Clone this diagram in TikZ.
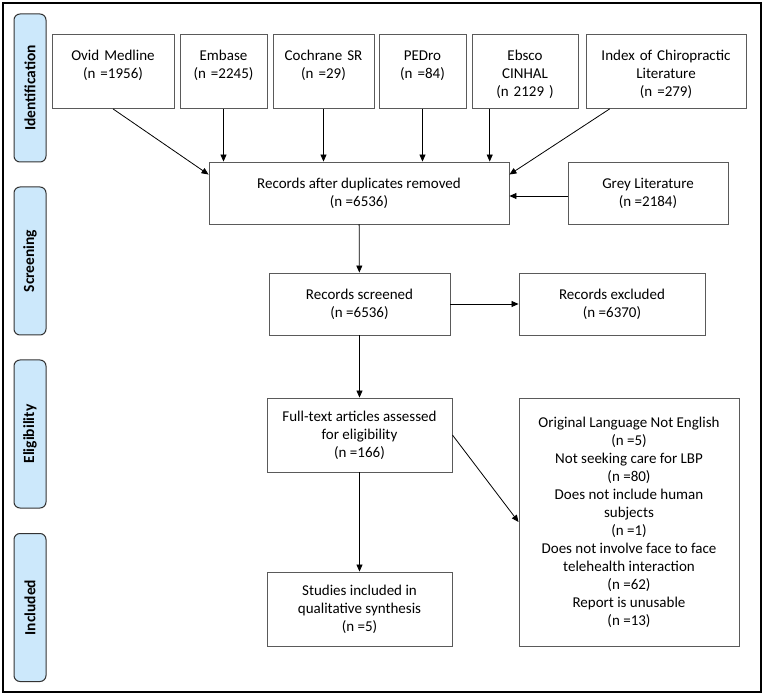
\documentclass[tikz,border=0pt]{standalone}
\usepackage{fontspec}
\setmainfont{Carlito}
\usepackage{tikz}
\usetikzlibrary{calc}
\usetikzlibrary{arrows.meta}
\definecolor{phasefill}{HTML}{CCE8FB}
\definecolor{boxline}{HTML}{5A5A5A}
\tikzset{
  box/.style={draw=boxline, line width=0.9pt, align=center, inner sep=2pt,
    font=\fontsize{15}{18}\selectfont},
  topbox/.style={box, anchor=north, inner xsep=0pt, inner ysep=4pt,
    text width=#1, text height=22pt, text depth=44pt},
  phase/.style={draw=black!80, fill=phasefill, rounded corners=6pt, line width=1pt,
    minimum width=148pt, minimum height=32pt, rotate=90,
    font=\fontsize{15.5}{18}\selectfont\bfseries},
  link/.style={->, line width=0.8pt}
}

\begin{document}
\begin{tikzpicture}[x=1pt, y=-1pt, >={Triangle[length=7pt,width=6pt]}]
\useasboundingbox (0,0) rectangle (764,695);
\draw[line width=2.5pt] (3,3) rectangle (761,692);

% phases
\node[phase] (ident) at (30,88) {Identification};
\node[phase] (screen) at (30,261) {Screening};
\node[phase] (elig) at (30,434) {Eligibility};
\node[phase] (incl) at (30,607.5) {Included};

% sources
\node[topbox=122pt] (ovid) at (113,34) {Ovid Medline\\(n =1956)};
\node[topbox=87pt] (embase) at (223.5,34) {Embase\\(n =2245)};
\node[topbox=101pt] (cochrane) at (323.5,34) {Cochrane SR\\(n =29)};
\node[topbox=87pt] (pedro) at (422.5,34) {PEDro\\(n =84)};
\node[topbox=106pt] (ebsco) at (525,34) {Ebsco\\CINHAL\\(n 2129 )};
\node[topbox=160pt] (index) at (666,34) {Index of Chiropractic\\Literature\\(n =279)};

\node[box, minimum width=300pt, minimum height=62pt] (dup) at (359,193) {Records after duplicates removed\\(n =6536)};
\node[box, minimum width=160pt, minimum height=62pt] (grey) at (648,193) {Grey Literature\\(n =2184)};

\node[box, minimum width=181pt, minimum height=62pt] (screened) at (359.5,304) {Records screened\\(n =6536)};
\node[box, minimum width=186pt, minimum height=62pt] (excluded) at (612,304) {Records excluded\\(n =6370)};

\node[box, minimum width=185pt, minimum height=74pt] (fulltext) at (359.5,435) {Full-text articles assessed\\for eligibility\\(n =166)};
\node[box, minimum width=220pt, minimum height=248pt] (reasons) at (629,522) {Original Language Not English\\(n =5)\\Not seeking care for LBP\\(n =80)\\Does not include human\\subjects\\(n =1)\\Does not involve face to face\\telehealth interaction\\(n =62)\\Report is unusable\\(n =13)};
\node[box, minimum width=185pt, minimum height=74pt] (studies) at (359.5,609) {Studies included in\\qualitative synthesis\\(n =5)};

% links
\coordinate (ebsco-out) at ($(ebsco.south west)!0.17!(ebsco.south east)$);
\coordinate (index-out) at ($(index.south west)!0.15!(index.south east)$);
\draw[link] (ovid.south) -- ([yshift=-13pt]dup.north west);
\draw[link] (embase.south) -- (embase.south |- dup.north);
\draw[link] (cochrane.south) -- (cochrane.south |- dup.north);
\draw[link] (pedro.south) -- (pedro.south |- dup.north);
\draw[link] (ebsco-out) -- (ebsco-out |- dup.north);
\draw[link] (index-out) -- ([yshift=-13pt]dup.north east);
\draw[link] ([yshift=-3pt]grey.west) -- ([yshift=-3pt]grey.west -| dup.east);
\draw[link] (dup) -- (screened);
\draw[link] (screened) -- (excluded);
\draw[link] (screened) -- (fulltext);
\draw[link] (fulltext.east) -- (reasons.west);
\draw[link] (fulltext) -- (studies);
\end{tikzpicture}
\end{document}
